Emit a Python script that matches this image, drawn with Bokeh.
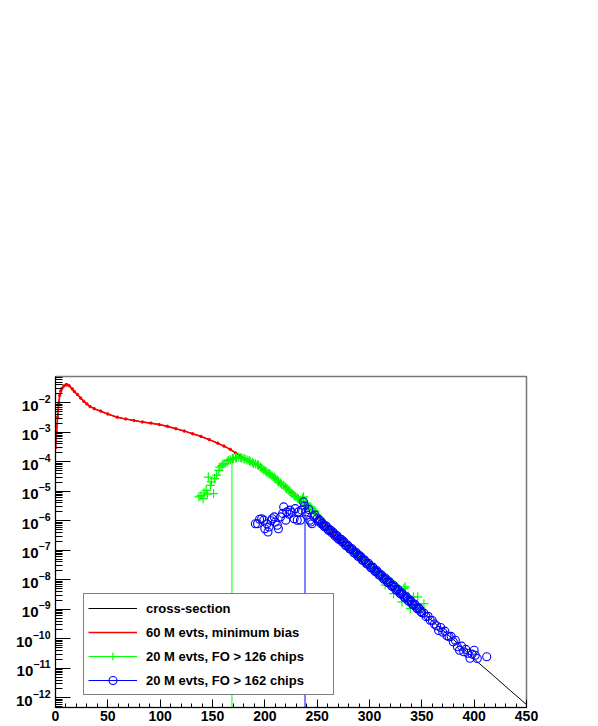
from bokeh.plotting import figure
from bokeh.models import Range1d, FixedTicker, Legend, LegendItem
from bokeh.embed import file_html
from bokeh.resources import INLINE

# ---------------- data (y given as log10) ----------------
# cross-section (black)
xs_x = [0, 1, 2, 3, 4, 6, 8, 11, 14, 16, 20, 24, 27, 30, 33, 38, 43, 50, 59, 67, 75, 83, 91,
        99, 107, 115, 123, 131, 139, 147, 155, 163, 170, 177, 185, 192, 199, 207, 215, 223, 231,
        240, 248, 256, 280, 300, 320, 340, 360, 380, 403, 420, 435, 450]
xs_log = [-3.60, -3.00, -2.50, -2.05, -1.78, -1.55, -1.44, -1.39, -1.45, -1.53, -1.70, -1.85,
          -1.95, -2.04, -2.13, -2.22, -2.29, -2.39, -2.49, -2.55, -2.60, -2.65, -2.69, -2.74,
          -2.80, -2.88, -2.96, -3.05, -3.14, -3.25, -3.37, -3.50, -3.65, -3.80, -3.98, -4.12,
          -4.29, -4.50, -4.74, -4.97, -5.20, -5.48, -5.80, -6.13, -6.88, -7.51, -8.14, -8.77,
          -9.40, -10.02, -10.78, -11.30, -11.77, -12.23]

# 60 M evts, minimum bias (red)
red_x = [0, 1, 2, 3, 4, 5, 6, 8, 10, 11, 13, 16, 18, 21, 24, 27, 30, 33, 37, 43, 50, 59, 67, 75,
         83, 91, 99, 107, 115, 123, 131, 139, 147, 155, 161, 167, 172, 177, 182, 188, 194, 199,
         205, 210, 215, 220, 225, 231, 236, 241, 246, 251, 256, 260, 264, 268, 272, 275, 278,
         281, 284, 287, 290]
red_log = [-3.53, -3.00, -2.49, -2.02, -1.75, -1.60, -1.52, -1.43, -1.39, -1.39, -1.42, -1.53,
           -1.62, -1.72, -1.84, -1.95, -2.04, -2.13, -2.20, -2.28, -2.38, -2.49, -2.55, -2.60,
           -2.65, -2.69, -2.74, -2.80, -2.88, -2.96, -3.05, -3.14, -3.25, -3.37, -3.47, -3.58,
           -3.70, -3.82, -3.92, -4.03, -4.13, -4.28, -4.44, -4.58, -4.72, -4.86, -5.01, -5.19,
           -5.34, -5.52, -5.70, -5.92, -6.12, -6.22, -6.40, -6.48, -6.72, -6.68, -6.90, -6.86,
           -7.08, -7.02, -7.26]

# 20 M evts, FO > 126 chips (green)
green_x = [137, 139, 141, 142, 144, 145, 146, 148, 149, 151, 152, 154, 156, 157, 159, 160, 162,
           164, 165, 167, 169, 170, 172, 173, 175, 177, 178, 180, 181, 183, 185, 186, 188, 189,
           191, 193, 194, 196, 197, 199, 201, 202, 204, 205, 207, 209, 210, 212, 213, 215, 216,
           218, 220, 221, 223, 224, 226, 228, 229, 231, 232, 234, 236, 237, 239, 240, 242, 244,
           245, 247, 248, 250, 253, 256, 259, 262, 265, 268, 271, 274, 277, 280, 283, 286, 289,
           292, 295, 298, 301, 304, 307, 310, 313, 315, 318, 320, 323, 326, 328, 331, 333, 334,
           337, 339, 342, 346, 349, 352]
green_log = [-5.19, -5.15, -5.25, -5.05, -4.97, -5.10, -4.52, -4.80, -4.68, -5.08, -4.57, -4.45,
             -4.29, -4.18, -4.13, -4.08, -4.06, -4.00, -3.95, -3.93, -3.90, -3.89, -3.87, -3.86,
             -3.84, -3.86, -3.87, -3.90, -3.91, -3.94, -3.96, -3.99, -4.02, -4.06, -4.07, -4.10,
             -4.12, -4.18, -4.22, -4.29, -4.31, -4.36, -4.40, -4.43, -4.48, -4.52, -4.58, -4.63,
             -4.69, -4.72, -4.77, -4.80, -4.86, -4.92, -4.97, -5.02, -5.08, -5.14, -5.18, -5.22,
             -5.25, -5.30, -5.24, -5.19, -5.40, -5.45, -5.50, -5.53, -5.59, -5.65, -5.70, -5.80,
             -5.95, -6.10, -6.22, -6.30, -6.42, -6.50, -6.58, -6.71, -6.78, -6.90, -6.96, -7.06,
             -7.18, -7.24, -7.36, -7.44, -7.55, -7.62, -7.74, -7.81, -7.93, -8.18, -8.00, -8.05,
             -8.47, -8.24, -8.30, -8.75, -8.30, -8.24, -8.55, -8.97, -8.58, -8.58, -8.95, -8.81]

# 20 M evts, FO > 162 chips (blue)
blue_x = [191, 193, 195, 197, 199, 200, 202, 203, 204, 206, 207, 209, 210, 212, 213, 215, 217,
          218, 220, 221, 223, 224, 226, 228, 229, 231, 232, 234, 235, 237, 238, 239, 240, 242,
          243, 244, 245, 247, 248, 250,
          252, 254, 256, 258, 260, 262, 264, 266, 268, 270, 272, 274, 276, 278, 280, 282, 284,
          286, 288, 290, 292, 294, 296, 298, 300, 302, 304, 306, 308, 310, 312, 314, 316, 318,
          320, 322, 324, 326, 328, 330, 332, 334, 336, 338, 340, 342, 344, 346, 348, 350, 352,
          354, 356, 358, 360, 362, 364, 366, 368, 370, 372, 374, 376, 378, 380, 382, 384, 386,
          388, 390, 392, 394, 396, 398, 400, 401, 403, 412,
          251, 253, 255, 257, 259, 261, 263, 265, 267, 269, 271, 273, 275, 277, 279, 281, 283,
          285, 287, 289, 291, 293, 295, 297, 299, 301, 303, 305, 307, 309, 311, 313, 315, 317,
          319, 321, 323, 325, 327, 329, 331, 333, 335, 337, 339, 341, 343, 345, 347, 349]
blue_log = [-6.10, -6.10, -5.95, -5.93, -5.98, -6.27, -6.10, -6.38, -6.21, -6.00, -5.93, -5.87,
            -6.04, -6.15, -6.27, -5.87, -5.75, -5.53, -5.98, -5.70, -5.78, -5.64, -5.72, -5.93,
            -5.59, -5.98, -5.70, -5.98, -5.64, -5.36, -5.50, -5.70, -5.81, -5.62, -5.98, -6.04,
            -6.10, -5.87, -5.81, -5.93,
            -5.97, -6.10, -6.15, -6.17, -6.28, -6.30, -6.41, -6.43, -6.49, -6.60, -6.62, -6.72,
            -6.74, -6.85, -6.87, -6.97, -6.99, -7.10, -7.12, -7.22, -7.24, -7.35, -7.37, -7.47,
            -7.50, -7.60, -7.62, -7.73, -7.75, -7.85, -7.87, -7.98, -8.00, -8.10, -8.12, -8.23,
            -8.25, -8.36, -8.37, -8.48, -8.50, -8.61, -8.62, -8.74, -8.75, -8.86, -8.87, -8.99,
            -9.00, -9.12, -9.13, -9.25, -9.24, -9.37, -9.38, -9.50, -9.56, -9.72, -9.62, -9.78,
            -9.74, -9.90, -9.93, -9.92, -10.10, -10.05, -10.27, -10.39, -10.25, -10.44, -10.36,
            -10.49, -10.66, -10.52, -10.39, -10.56, -10.67, -10.61,
            -6.02, -6.00, -6.08, -6.20, -6.19, -6.33, -6.32, -6.38, -6.52, -6.51, -6.64, -6.63,
            -6.69, -6.83, -6.82, -6.95, -6.94, -7.08, -7.07, -7.20, -7.19, -7.33, -7.32, -7.45,
            -7.44, -7.58, -7.57, -7.70, -7.69, -7.83, -7.82, -7.95, -7.94, -8.08, -8.07, -8.20,
            -8.19, -8.33, -8.32, -8.46, -8.45, -8.58, -8.57, -8.71, -8.70, -8.83, -8.82, -8.96,
            -8.95, -9.08]

# vertical threshold lines (green, blue)
thr_x = [168.6, 238.4]
thr_top = [1.0e-4, 4.4e-6]
thr_col = ["#00ff00", "#0000ff"]

x_ticks = [0, 50, 100, 150, 200, 250, 300, 350, 400, 450]
y_decades = [-12, -11, -10, -9, -8, -7, -6, -5, -4, -3, -2]

# ---------------- figure ----------------
FONT = "Liberation Sans"
y_lo = 10 ** -12.33
y_hi = 10 ** -1.11


def pw(v):
    return [10 ** e for e in v]


p = figure(frame_width=471, frame_height=331, x_range=Range1d(0, 450),
           y_range=Range1d(y_lo, y_hi), y_axis_type="log",
           output_backend="svg", toolbar_location=None,
           min_border_left=55, min_border_top=376, min_border_right=64, min_border_bottom=0,
           background_fill_color="white", border_fill_color="white")
p.grid.visible = False
p.outline_line_color = "#777777"
p.outline_line_width = 1.5

# black cross-section
r_black = p.line(xs_x, pw(xs_log), line_color="black", line_width=1)
# red
r_red = p.line(red_x, pw(red_log), line_color="#ff0000", line_width=1.6)
r_red_dots = p.scatter(red_x, pw(red_log), marker="circle", size=2.5, fill_color="#ff0000",
                       line_color="#ff0000")
# green
r_green = p.scatter(green_x, pw(green_log), marker="cross", size=9, line_color="#00ff00",
                    line_width=1.2)
# blue
r_blue = p.scatter(blue_x, pw(blue_log), marker="circle", size=8, fill_color=None,
                   line_color="#0000ff", line_width=1.1)
# vertical lines
r_gline = p.segment(x0=[thr_x[0]], y0=[y_lo], x1=[thr_x[0]], y1=[thr_top[0]],
                    line_color=thr_col[0], line_width=1)
r_bline = p.segment(x0=[thr_x[1]], y0=[y_lo], x1=[thr_x[1]], y1=[thr_top[1]],
                    line_color=thr_col[1], line_width=1)

# axes
xa = p.xaxis[0]
xa.ticker = FixedTicker(ticks=x_ticks, minor_ticks=list(range(0, 451, 10)))
xa.major_tick_in = 8
xa.major_tick_out = 0
xa.minor_tick_in = 4
xa.minor_tick_out = 0
xa.major_label_standoff = 3
xa.axis_line_color = "black"
xa.major_label_text_font = FONT
xa.major_label_text_font_style = "bold"
xa.major_label_text_font_size = "14px"
xa.major_label_text_color = "black"

ya = p.yaxis[0]
ya.ticker = FixedTicker(ticks=[10.0 ** d for d in y_decades],
                        minor_ticks=[m * 10.0 ** d for d in range(-13, -1) for m in range(2, 10)])
ya.major_tick_in = 15
ya.major_tick_out = 0
ya.minor_tick_in = 7
ya.minor_tick_out = 0
ya.major_label_standoff = 5
ya.axis_line_color = "black"
ya.major_label_text_font = FONT
ya.major_label_text_font_style = "bold"
ya.major_label_text_font_size = "15px"
ya.major_label_text_color = "black"

legend = Legend(items=[
    LegendItem(label="cross-section", renderers=[r_black]),
    LegendItem(label="60 M evts, minimum bias", renderers=[r_red]),
    LegendItem(label="20 M evts, FO > 126 chips", renderers=[r_gline, r_green]),
    LegendItem(label="20 M evts, FO > 162 chips", renderers=[r_bline, r_blue]),
], location=(28, 12))
legend.label_text_font = FONT
legend.label_text_font_style = "bold"
legend.label_text_font_size = "13px"
legend.label_text_color = "black"
legend.glyph_width = 49
legend.glyph_height = 20
legend.label_height = 20
legend.label_standoff = 9
legend.label_width = 183
legend.padding = 4
legend.spacing = 4
legend.margin = 0
legend.border_line_color = "black"
legend.border_line_width = 1
legend.background_fill_color = "white"
legend.background_fill_alpha = 1.0
p.add_layout(legend)

open("out.html", "w").write(file_html(p, INLINE))
